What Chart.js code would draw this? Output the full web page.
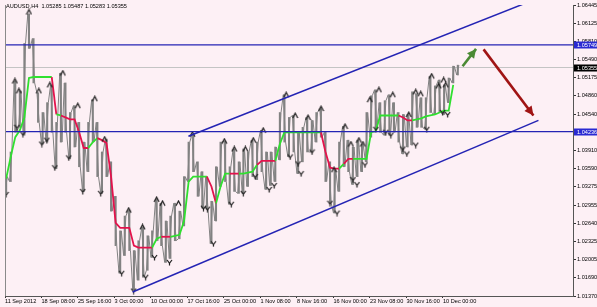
<!DOCTYPE html>
<html>
<head>
<meta charset="utf-8">
<script src="https://cdn.jsdelivr.net/npm/chart.js@4.4.0/dist/chart.umd.min.js"></script>
<style>
  html, body { margin: 0; padding: 0; background: #fdf0f5; }
  canvas { display: block; }
</style>
</head>
<body>
<canvas id="chart" width="597" height="307"></canvas>
<script>
// ============================================================
// AUDUSD H4 — 11 Sep .. 10 Dec 2012, fractals + trend steps
// x axis unit = one H4 bar, price sampled every 4 bars
// ============================================================

const TITLE = "AUDUSD,H4  1.05285 1.05487 1.05283 1.05355";

/* ── Price samples (low / high per 4 bars) ─────────────────*/
const priceLow = [
  1.03160, 1.03366, 1.04226, 1.04312, 1.04174, 1.05688, 1.05086, 1.04398, 1.04020, 1.04054,
  1.04226, 1.03590, 1.04054, 1.04226, 1.03762, 1.03968, 1.03624, 1.03194, 1.03538, 1.04054,
  1.03452, 1.03160, 1.03452, 1.02850, 1.02248, 1.01766, 1.02076, 1.02162, 1.01474, 1.01646,
  1.01698, 1.01818, 1.02042, 1.02334, 1.02248, 1.01956, 1.02024, 1.02334, 1.02368, 1.02592,
  1.03366, 1.03538, 1.03108, 1.02902, 1.02884, 1.02282, 1.02678, 1.03280, 1.03366, 1.02970,
  1.03194, 1.03160, 1.03160, 1.03280, 1.03452, 1.03400, 1.03538, 1.03228, 1.03297, 1.03366,
  1.03744, 1.04054, 1.03796, 1.03882, 1.03504, 1.03710, 1.03882, 1.03882, 1.04054, 1.04140,
  1.03366, 1.02988, 1.02816, 1.03194, 1.03624, 1.03538, 1.03314, 1.03452, 1.03538, 1.03710,
  1.04140, 1.04278, 1.04226, 1.04174, 1.04174, 1.04226, 1.04054, 1.03848, 1.03968, 1.04002,
  1.04312, 1.04312, 1.04278, 1.04570, 1.04536, 1.04570, 1.04536, 1.04742, 1.05086, 1.05224
];
const priceHigh = [
  1.03452, 1.03882, 1.05120, 1.04948, 1.05774, 1.06290, 1.05860, 1.04914, 1.04570, 1.04742,
  1.05052, 1.04398, 1.05258, 1.05086, 1.04570, 1.04690, 1.04398, 1.04054, 1.04398, 1.04794,
  1.04398, 1.03882, 1.04106, 1.03710, 1.03108, 1.02506, 1.02764, 1.02867, 1.02162, 1.02334,
  1.02575, 1.02420, 1.02506, 1.03056, 1.02988, 1.02678, 1.02764, 1.02988, 1.02850, 1.03452,
  1.04054, 1.04192, 1.03710, 1.03538, 1.03452, 1.03022, 1.03624, 1.04054, 1.04071, 1.03624,
  1.03934, 1.03710, 1.03934, 1.03882, 1.04088, 1.04054, 1.04260, 1.03882, 1.03882, 1.03968,
  1.04570, 1.04880, 1.04484, 1.04518, 1.04226, 1.04312, 1.04484, 1.04432, 1.04570, 1.04639,
  1.04226, 1.03710, 1.03572, 1.04054, 1.04329, 1.04088, 1.03968, 1.04088, 1.04020, 1.04570,
  1.04862, 1.04966, 1.04742, 1.04776, 1.04880, 1.04742, 1.04570, 1.04536, 1.04536, 1.04931,
  1.04897, 1.04828, 1.04828, 1.05206, 1.05034, 1.05138, 1.05052, 1.05172, 1.05378, 1.05396
];

/* ── Trend step indicator (1 = up/green, -1 = down/red) ────*/
const stepLine = [
  1.03418, 1.03796, 1.04140, 1.04260, 1.04484, 1.05172, 1.05189, 1.05189, 1.05189, 1.05189,
  1.05189, 1.04536, 1.04518, 1.04484, 1.04450, 1.04450, 1.04226, 1.03951, 1.03951, 1.04054,
  1.04123, 1.04088, 1.04037, 1.03452, 1.02644, 1.02558, 1.02558, 1.02558, 1.02248, 1.02214,
  1.02214, 1.02214, 1.02214, 1.02368, 1.02403, 1.02403, 1.02403, 1.02420, 1.02437, 1.02678,
  1.03366, 1.03452, 1.03452, 1.03452, 1.03452, 1.03280, 1.02988, 1.03280, 1.03504, 1.03504,
  1.03504, 1.03504, 1.03504, 1.03521, 1.03538, 1.03658, 1.03727, 1.03727, 1.03727, 1.03727,
  1.04020, 1.04226, 1.04226, 1.04226, 1.04226, 1.04226, 1.04226, 1.04226, 1.04226, 1.04226,
  1.03882, 1.03607, 1.03590, 1.03590, 1.03676, 1.03762, 1.03762, 1.03762, 1.03762, 1.03762,
  1.04226, 1.04243, 1.04518, 1.04518, 1.04518, 1.04518, 1.04518, 1.04484, 1.04432, 1.04432,
  1.04450, 1.04467, 1.04501, 1.04518, 1.04536, 1.04570, 1.04604, 1.04604, 1.05052, null
];
const stepTrend = [
   1,  1,  1,  1,  1,  1,  1,  1,  1,  1,
   1, -1,  1, -1, -1, -1, -1, -1, -1,  1,
   1, -1, -1, -1, -1, -1, -1, -1, -1, -1,
  -1, -1, -1,  1,  1, -1, -1,  1,  1,  1,
   1,  1,  1,  1,  1, -1, -1,  1,  1,  1,
  -1, -1,  1,  1,  1,  1, -1, -1, -1, -1,
   1,  1,  1,  1,  1,  1,  1,  1,  1,  1,
  -1, -1, -1, -1,  1, -1, -1,  1,  1,  1,
   1,  1,  1,  1,  1,  1,  1, -1, -1, -1,
   1,  1,  1,  1,  1,  1,  1,  1,  1,  1
];

/* ── Fractals ──────────────────────────────────────────────*/
const upFractalBar = [8.7, 12.2, 21, 29.7, 39.3, 50.7, 63.8, 78.7, 87.4, 108.4, 120.6, 132.9, 138.1,
  152.1, 164.3, 192.3, 201, 210.7, 217.7, 226.4, 246.5, 254.4, 265.7, 277.1, 288.5, 298.1, 303.3,
  310.3, 313.8, 319.9, 327.8, 340, 354, 360.1, 364.5, 374.1, 380.2, 384.6, 386.4];
const upFractalPrice = [1.05120, 1.04948, 1.06324, 1.04948, 1.05052, 1.05258, 1.04690, 1.04811,
  1.04106, 1.02867, 1.02575, 1.03056, 1.02988, 1.02988, 1.04192, 1.04071, 1.03934, 1.03934,
  1.04088, 1.04260, 1.04880, 1.04518, 1.04484, 1.04639, 1.03572, 1.04329, 1.04020, 1.04088,
  1.04020, 1.04794, 1.04966, 1.04880, 1.04536, 1.04931, 1.04897, 1.05206, 1.05034, 1.05138, 1.05052];
const downFractalBar = [0.9, 10.5, 15.7, 32.3, 36.7, 43.7, 55.9, 68.2, 83.9, 102.3, 112.8, 123.3,
  131.1, 144.2, 174, 177.4, 182.7, 198.4, 208.9, 219.4, 231.6, 236, 250, 256.9, 259.6, 269.2,
  284.9, 291.1, 305.1, 308.6, 315.6, 325.2, 333.9, 338.3, 348.8, 352.3, 360.1, 369.8, 383.7, 388.1];
const downFractalPrice = [1.03142, 1.04312, 1.04192, 1.04020, 1.04088, 1.03607, 1.03779, 1.03194,
  1.03160, 1.01766, 1.01457, 1.01698, 1.02042, 1.01956, 1.02902, 1.02884, 1.02282, 1.02970,
  1.03160, 1.03452, 1.03228, 1.03297, 1.03796, 1.03676, 1.03504, 1.03882, 1.02988, 1.02816,
  1.03400, 1.03314, 1.03658, 1.04278, 1.04226, 1.04174, 1.03934, 1.03848, 1.04002, 1.04278,
  1.04570, 1.04536];

/* ── Drawn objects ─────────────────────────────────────────*/
const levelPrices = [1.05749, 1.04236];
const lastPrice = 1.05355;
const upperChannelBar = [160.8, 454.5];
const upperChannelPrice = [1.04157, 1.06462];
const lowerChannelBar = [111.9, 467.7];
const lowerChannelPrice = [1.01440, 1.04432];
const greenArrowBar = [401.2, 413];
const greenArrowPrice = [1.05378, 1.05679];
const redArrowBar = [419.6, 463.3];
const redArrowPrice = [1.05671, 1.04518];

/* ── Axes ──────────────────────────────────────────────────*/
const xTickBars = [0, 32, 64, 96, 128, 160, 192, 224, 256, 288, 320, 352, 384];
const xTickLabels = ["11 Sep 2012", "18 Sep 08:00", "25 Sep 16:00", "3 Oct 00:00", "10 Oct 00:00",
  "17 Oct 16:00", "25 Oct 00:00", "1 Nov 08:00", "8 Nov 16:00", "16 Nov 00:00", "23 Nov 08:00",
  "30 Nov 16:00", "10 Dec 00:00"];
const yTickValues = [1.06445, 1.06125, 1.05810, 1.05490, 1.05175, 1.04860, 1.04540, 1.04225,
  1.03910, 1.03590, 1.03275, 1.02955, 1.02640, 1.02325, 1.02005, 1.01690, 1.01370];

const GREEN = "#2fe02f", RED = "#e3124c", BLUE = "#2424b4", GRAY = "#828282";
const FONT = { family: "'Liberation Sans', Arial, sans-serif", size: 5.6 };

// sample k sits at bar 1 + 4k
const barOf = k => 1 + 4 * k;
const pts = (xs, ys) => xs.map((x, i) => ({ x, y: ys[i] }));

// path through each sample's low/high, ordered toward the next sample
const pricePath = [];
priceLow.forEach((lo, k) => {
  const hi = priceHigh[k];
  const nextMid = k + 1 < priceLow.length ? (priceLow[k + 1] + priceHigh[k + 1]) / 2 : hi;
  const rising = nextMid > (lo + hi) / 2;
  pricePath.push({ x: barOf(k) - 1, y: rising ? lo : hi }, { x: barOf(k) + 1, y: rising ? hi : lo });
});

function chevron(up) {
  const c = document.createElement("canvas");
  c.width = 7; c.height = 7;
  const g = c.getContext("2d");
  g.strokeStyle = "#1a1a1a";
  g.lineWidth = 1.2;
  g.beginPath();
  if (up) {
    g.moveTo(1, 6); g.lineTo(3.5, 1.2); g.lineTo(6, 6);
  } else {
    g.moveTo(1, 1); g.lineTo(3.5, 4.3); g.lineTo(6, 1);
    g.moveTo(3.5, 4.3); g.lineTo(3.5, 6.5);
  }
  g.stroke();
  return c;
}

function segLine(xs, ys, color, width, extra) {
  return Object.assign({
    type: "line", data: pts(xs, ys), borderColor: color, borderWidth: width,
    pointRadius: 0, fill: false, tension: 0
  }, extra || {});
}

/* ── Overlay plugin: arrowheads, frame, title, price boxes ─*/
const overlay = {
  id: "overlay",
  afterDatasetsDraw(chart) {
    const ctx = chart.ctx;
    chart.data.datasets.forEach((ds, i) => {
      if (!ds.arrowHead) return;
      const el = chart.getDatasetMeta(i).data;
      const a = el[0], b = el[el.length - 1];
      const ang = Math.atan2(b.y - a.y, b.x - a.x);
      const len = 9, half = 4.5;
      const bx = b.x - len * Math.cos(ang), by = b.y - len * Math.sin(ang);
      ctx.save();
      ctx.fillStyle = ds.borderColor;
      ctx.beginPath();
      ctx.moveTo(b.x, b.y);
      ctx.lineTo(bx + half * Math.sin(ang), by - half * Math.cos(ang));
      ctx.lineTo(bx - half * Math.sin(ang), by + half * Math.cos(ang));
      ctx.closePath();
      ctx.fill();
      ctx.restore();
    });
  },
  afterDraw(chart) {
    const { ctx, chartArea: area } = chart;
    const y = chart.scales.y;
    ctx.save();
    // left frame
    ctx.strokeStyle = "#8a8a8a";
    ctx.lineWidth = 1;
    ctx.beginPath();
    ctx.moveTo(area.left + 0.5, area.top);
    ctx.lineTo(area.left + 0.5, area.bottom);
    ctx.stroke();
    // title
    ctx.font = `${FONT.size}px ${FONT.family}`;
    ctx.fillStyle = "#000";
    ctx.textBaseline = "middle";
    ctx.fillText(TITLE, 6, 6);
    // price boxes on the axis
    const box = (price, color) => {
      const py = Math.round(y.getPixelForValue(price));
      ctx.fillStyle = color;
      ctx.fillRect(area.right + 1, py - 3.5, chart.width - area.right - 1, 7);
      ctx.fillStyle = "#fff";
      ctx.fillText(price.toFixed(5), area.right + 4, py + 0.5);
    };
    levelPrices.forEach(p => box(p, "#2a2ad2"));
    box(lastPrice, "#000");
    ctx.restore();
  }
};

const datasets = [
  segLine(greenArrowBar, greenArrowPrice, "#4a8a34", 2.6, { arrowHead: true }),
  segLine(redArrowBar, redArrowPrice, "#a01414", 2.6, { arrowHead: true }),
  segLine(upperChannelBar, upperChannelPrice, BLUE, 1.5),
  segLine(lowerChannelBar, lowerChannelPrice, BLUE, 1.5),
  ...levelPrices.map(p => segLine([0, 498], [p, p], BLUE, 1.3)),
  {
    type: "line", data: pts(upFractalBar, upFractalPrice), showLine: false,
    pointStyle: chevron(true), pointRadius: 3
  },
  {
    type: "line", data: pts(downFractalBar, downFractalPrice), showLine: false,
    pointStyle: chevron(false), pointRadius: 3
  },
  {
    type: "line",
    data: stepLine.map((v, k) => ({ x: barOf(k), y: v })),
    borderWidth: 1.8, pointRadius: 0, tension: 0, fill: false, spanGaps: false,
    borderColor: GREEN,
    segment: { borderColor: c => stepTrend[c.p1DataIndex] > 0 ? GREEN : RED }
  },
  {
    type: "line", data: pricePath, borderColor: GRAY, borderWidth: 1,
    pointRadius: 0, tension: 0, fill: false
  },
  {
    type: "bar",
    data: priceLow.map((lo, k) => ({ x: barOf(k), y: [lo, priceHigh[k]] })),
    backgroundColor: GRAY, borderWidth: 0, barThickness: 1.4
  },
  segLine([0, 498], [lastPrice, lastPrice], "#c4c4c4", 1)
];

new Chart(document.getElementById("chart"), {
  type: "line",
  data: { datasets },
  plugins: [overlay],
  options: {
    responsive: false,
    animation: false,
    events: [],
    devicePixelRatio: 1,
    layout: { padding: { left: 3, top: 1, right: 0, bottom: 0 } },
    plugins: { legend: { display: false }, tooltip: { enabled: false } },
    scales: {
      x: {
        type: "linear", min: 0, max: 498, offset: false,
        grid: { display: true, drawOnChartArea: false, offset: false, tickLength: 2, color: "#333" },
        border: { display: true, color: "#555", width: 1 },
        afterBuildTicks: axis => { axis.ticks = xTickBars.map(v => ({ value: v })); },
        afterFit: s => { s.height = 11; s.paddingLeft = 0; s.paddingRight = 0; },
        ticks: {
          autoSkip: false, maxRotation: 0, align: "start", padding: 0,
          color: "#000", font: FONT,
          callback: (v, i) => xTickLabels[i]
        }
      },
      y: {
        type: "linear", position: "right", min: 1.01370, max: 1.06445, beginAtZero: false,
        grid: { display: true, drawOnChartArea: false, tickLength: 3, color: "#333" },
        border: { display: true, color: "#555", width: 1 },
        afterBuildTicks: axis => { axis.ticks = yTickValues.map(v => ({ value: v })); },
        afterFit: s => { s.width = 24; s.paddingTop = 0; s.paddingBottom = 0; },
        ticks: {
          autoSkip: false, padding: 1, color: "#000", font: FONT,
          callback: v => v.toFixed(5)
        }
      }
    }
  }
});
</script>
</body>
</html>
